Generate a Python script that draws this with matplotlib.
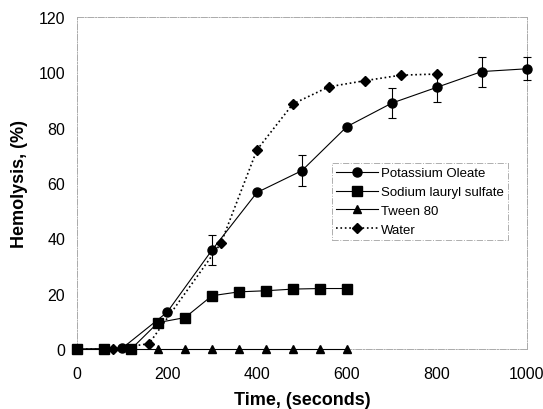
import numpy as np
import matplotlib.pyplot as plt

plt.rcParams['font.family'] = ['Liberation Sans', 'DejaVu Sans']

# Potassium Oleate
oleate_t = [0, 100, 200, 300, 400, 500, 600, 700, 800, 900, 1000]
oleate_h = [0, 0.3, 13.3, 35.8, 56.6, 64.5, 80.4, 88.9, 94.6, 100.3, 101.3]
oleate_err = [0, 0, 0, 5.4, 0, 5.6, 0, 5.3, 5.3, 5.4, 4.1]

# Sodium lauryl sulfate
sls_t = [0, 60, 120, 180, 240, 300, 360, 420, 480, 540, 600]
sls_h = [0, 0, 0, 9.6, 11.4, 19.3, 20.7, 21.1, 21.7, 21.9, 21.9]

# Tween 80
tween_t = [0, 60, 120, 180, 240, 300, 360, 420, 480, 540, 600]
tween_h = [0, 0, 0, 0, 0, 0, 0, 0, 0, 0, 0]

# Water
water_t = [0, 80, 160, 320, 400, 480, 560, 640, 720, 800]
water_h = [0, 0, 2.0, 38.3, 72.0, 88.6, 94.8, 97.0, 99.0, 99.4]

xticks = [0, 200, 400, 600, 800, 1000]
yticks = [0, 20, 40, 60, 80, 100, 120]

fig = plt.figure(figsize=(5.43, 4.10), dpi=100)
ax = fig.add_axes([0.142, 0.146, 0.828, 0.81])

eb = ax.errorbar(oleate_t, oleate_h, yerr=oleate_err, color='k', lw=0.8,
                 marker='o', ms=6.5, capsize=3, elinewidth=0.8, capthick=0.8,
                 clip_on=False, zorder=4)
l2, = ax.plot(sls_t, sls_h, color='k', lw=0.8, marker='s', ms=6.5,
              clip_on=False, zorder=3)
l3, = ax.plot(tween_t, tween_h, color='k', lw=0.8, marker='^', ms=6,
              clip_on=False, zorder=3)
l4, = ax.plot(water_t, water_h, color='k', lw=1.2, ls=':', marker='D', ms=5,
              clip_on=False, zorder=3)

ax.set_xlim(0, 1000)
ax.set_ylim(0, 120)
ax.set_xticks(xticks)
ax.set_yticks(yticks)
ax.tick_params(length=0, labelsize=11.5)
ax.tick_params(axis='x', pad=12)
ax.tick_params(axis='y', pad=8.5)

for s in ax.spines.values():
    s.set_color('#aaaaaa')
    s.set_linestyle('-.')
    s.set_linewidth(0.7)

ax.set_xlabel('Time, (seconds)', fontsize=13, fontweight='bold', labelpad=7)
ax.set_ylabel('Hemolysis, (%)', fontsize=13, fontweight='bold', labelpad=8)

leg = ax.legend([eb.lines[0], l2, l3, l4],
                ['Potassium Oleate', 'Sodium lauryl sulfate', 'Tween 80', 'Water'],
                loc='upper left', bbox_to_anchor=(0.567, 0.56), fontsize=9.5,
                frameon=True, fancybox=False, handlelength=3.2,
                handletextpad=0.2, borderpad=0.3, labelspacing=0.5,
                borderaxespad=0)
leg.get_frame().set_edgecolor('#999999')
leg.get_frame().set_linestyle('-.')
leg.get_frame().set_linewidth(0.7)

fig.savefig('out.png', dpi=100)
